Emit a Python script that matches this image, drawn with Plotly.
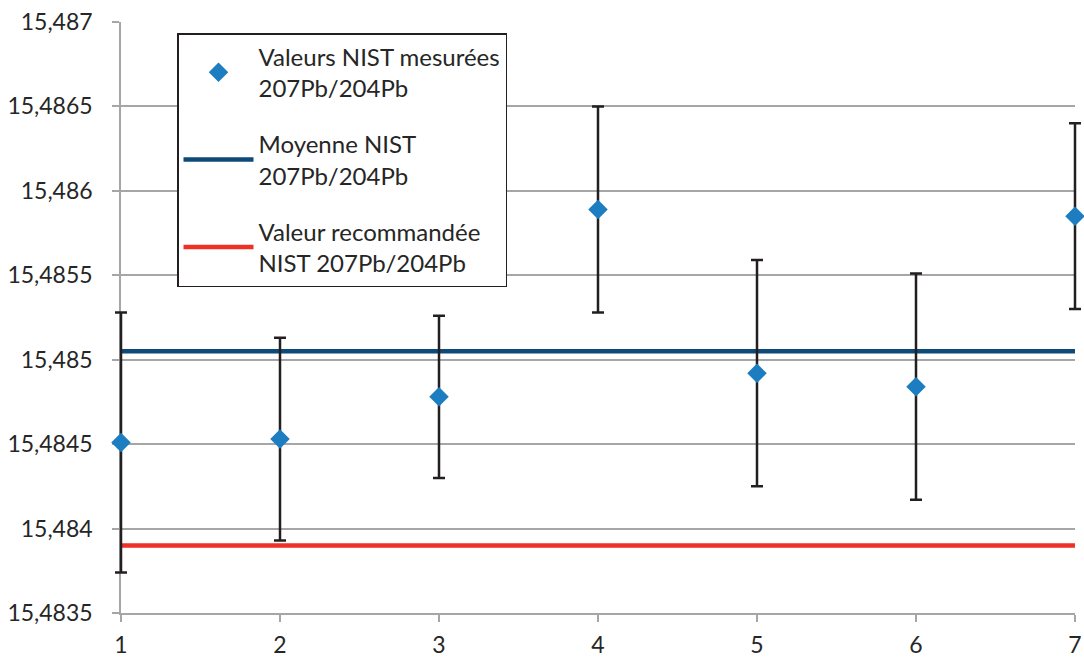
import plotly.graph_objects as go

# Données
runs = [1, 2, 3, 4, 5, 6, 7]
measured = [15.48451, 15.48453, 15.48478, 15.48589, 15.48492, 15.48484, 15.48585]
errors = [0.00077, 0.00060, 0.00048, 0.00061, 0.00067, 0.00067, 0.00055]
mean_nist = 15.48505
recommended_nist = 15.4839

W, H = 1084, 666
font_family = "Lato, 'Open Sans', sans-serif"
text_color = "#262626"
grid_color = "#a6a6a6"

# zone de tracé (px)
plot_left, plot_right = 121, 1075
plot_top, plot_bottom = 22, 613
m_l, m_r = plot_left - 20, 0
m_t, m_b = plot_top, H - plot_bottom
inner_w = W - m_l - m_r
inner_h = H - m_t - m_b
dom = [(plot_left - m_l) / inner_w, (plot_right - m_l) / inner_w]
px_per_unit = (plot_right - plot_left) / (runs[-1] - runs[0])
# axe invisible plus large pour que les barres d'erreur aux bords ne soient pas coupées
x2_range = [runs[0] - (plot_left - m_l) / px_per_unit,
            runs[-1] + (W - m_r - plot_right) / px_per_unit]
y_range = [15.4835, 15.487]

legend_left, legend_top = 177, 33

fig = go.Figure()

# Moyenne NIST
fig.add_trace(
    go.Scatter(
        x=[runs[0], runs[-1]],
        y=[mean_nist, mean_nist],
        mode="lines",
        name="Moyenne NIST<br>207Pb/204Pb",
        line=dict(color="#0d4a78", width=4.5),
        legendrank=2,
        legendgroup="b",
    )
)

# Valeur recommandée
fig.add_trace(
    go.Scatter(
        x=[runs[0], runs[-1]],
        y=[recommended_nist, recommended_nist],
        mode="lines",
        name="Valeur recommandée<br>NIST 207Pb/204Pb",
        line=dict(color="#ee3124", width=4.5),
        legendrank=3,
        legendgroup="c",
    )
)

# Valeurs mesurées
fig.add_trace(
    go.Scatter(
        x=runs,
        y=measured,
        xaxis="x2",
        yaxis="y2",
        mode="markers",
        name="Valeurs NIST mesurées<br>207Pb/204Pb",
        marker=dict(symbol="diamond", size=15, color="#1c7dc1"),
        error_y=dict(
            type="data",
            array=errors,
            visible=True,
            color="#231f20",
            thickness=2.5,
            width=6,
        ),
        cliponaxis=False,
        legendrank=1,
        legendgroup="a",
    )
)

fig.update_layout(
    width=W,
    height=H,
    margin=dict(l=m_l, r=m_r, t=m_t, b=m_b, autoexpand=False),
    paper_bgcolor="white",
    plot_bgcolor="rgba(0,0,0,0)",
    separators=", ",
    font=dict(family=font_family, size=23, color=text_color),
    showlegend=True,
    legend=dict(
        x=(legend_left - m_l) / inner_w,
        y=(H - m_b - legend_top) / inner_h,
        xanchor="left",
        yanchor="top",
        bgcolor="white",
        bordercolor="#231f20",
        borderwidth=1.5,
        font=dict(size=24, color=text_color),
        tracegroupgap=22,
        itemwidth=70,
        traceorder="grouped",
    ),
    xaxis=dict(
        domain=dom,
        range=[runs[0], runs[-1]],
        dtick=1,
        tick0=1,
        showgrid=False,
        zeroline=False,
        showline=True,
        linecolor=grid_color,
        linewidth=1.5,
        ticks="outside",
        ticklen=7,
        tickcolor=grid_color,
        tickwidth=1.5,
        ticklabelstandoff=4,
        ticklabeloverflow="allow",
        automargin=False,
        tickfont=dict(size=23, color=text_color),
    ),
    yaxis=dict(
        range=y_range,
        dtick=0.0005,
        tick0=15.4835,
        tickformat=".4~f",
        showgrid=True,
        gridcolor=grid_color,
        gridwidth=1.5,
        zeroline=False,
        showline=True,
        linecolor=grid_color,
        linewidth=1.5,
        ticks="outside",
        ticklen=7,
        tickcolor=grid_color,
        tickwidth=1.5,
        ticklabelstandoff=15,
        ticklabeloverflow="allow",
        automargin=False,
        tickfont=dict(size=23, color=text_color),
    ),
    xaxis2=dict(
        domain=[0, 1],
        range=x2_range,
        anchor="y2",
        visible=False,
        showgrid=False,
        zeroline=False,
    ),
    yaxis2=dict(
        range=y_range,
        anchor="x2",
        visible=False,
        showgrid=False,
        zeroline=False,
    ),
)

# pas de marge de page autour de la figure
fig.write_html(
    "out.html",
    config={"displayModeBar": False},
    post_script="document.body.style.margin='0';document.body.style.overflow='hidden';",
)
